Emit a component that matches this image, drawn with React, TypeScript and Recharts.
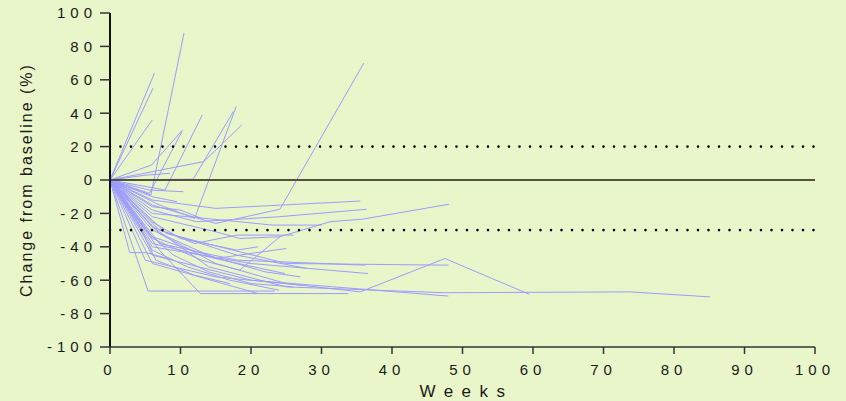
import React from 'react';
import { LineChart, Line, XAxis, YAxis, ReferenceLine } from 'recharts';

// each patient: [week, % change from baseline]
const p01 = [[0, 0], [6.3, 64]];
const p02 = [[0, 0], [6.1, 55]];
const p03 = [[0, 0], [6.0, 36]];
const p04 = [[0, 0], [5.8, -9], [10.5, 88]];
const p05 = [[0, 0], [7.8, -6], [13.1, 39]];
const p06 = [[0, 0], [11.8, 0.5], [17.5, 41]];
const p07 = [[0, 0], [5.9, 9], [10.3, 30]];
const p08 = [[0, 0], [13.3, 11], [18.7, 33]];
const p09 = [[0, 0], [6.5, -14], [12, -23], [17.9, 44]];
const p10 = [[0, 0], [5.5, -6], [10.4, -7]];
const p11 = [[0, 0], [5.2, 3], [8.5, 4]];
const p12 = [[0, 0], [5.6, -8], [10.2, 29]];
const p13 = [[0, 0], [6, -12], [15, -17], [35.5, -12.6]];
const p14 = [[0, 0], [6, -18], [12.3, -25], [24, -22], [36.4, -17.5]];
const p15 = [[0, 0], [6, -15], [15, -26], [24.1, -17.5], [36, 70]];
const p16 = [[0, 0], [6, -22], [15, -31], [18.4, -35], [24.1, -34]];
const p17 = [[0, 0], [6, -35], [13, -48], [18.4, -54], [24.1, -34], [31.2, -25], [35.9, -23.4], [48.1, -14.5]];
const p18 = [[0, 0], [5.4, -66.5], [23.4, -66.5]];
const p19 = [[0, 0], [7, -42], [12.8, -68], [33.8, -68]];
const p20 = [[0, 0], [2.8, -43.5], [5.2, -43.5], [9, -48]];
const p21 = [[0, 0], [7, -32], [15, -50], [25, -62], [35.5, -67], [39.7, -60], [47.5, -47], [59.5, -68.5]];
const p22 = [[0, 0], [6, -28], [14, -52], [25, -64], [47.5, -67.5], [73.8, -67], [85.1, -70]];
const p23 = [[0, 0], [6, -30], [15, -47], [25, -41]];
const p24 = [[0, 0], [7, -38], [18, -48], [36.2, -51]];
const p25 = [[0, 0], [6, -40], [20, -50], [36.6, -56]];
const p26 = [[0, 0], [8, -32], [25, -50], [48, -51]];
const p27 = [[0, 0], [6, -45], [20, -60], [48, -69.5]];
const p28 = [[0, 0], [5, -48], [15, -58], [27.2, -63]];
const p29 = [[0, 0], [6, -38], [16, -48], [24.8, -56]];
const p30 = [[0, 0], [7, -30], [18, -45], [28, -53]];
const p31 = [[0, 0], [6, -50], [21, -68]];
const p32 = [[0, 0], [6, -25], [10, -35], [18, -42], [21, -40]];
const p33 = [[0, 0], [5, -30], [9, -45], [14, -55], [20, -62], [26, -64]];
const p34 = [[0, 0], [6, -28], [12, -38], [18, -33], [26, -33]];
const p35 = [[0, 0], [6, -34], [13, -44], [22, -55], [27, -58]];
const p36 = [[0, 0], [6, -42], [11, -52], [17, -60], [24, -66]];
const p37 = [[0, 0], [6, -16], [10, -18], [13, -23]];
const p38 = [[0, 0], [4, -26], [6.5, -48], [12, -57], [17, -62]];
const p39 = [[0, 0], [6, -10], [9.5, -13]];
const p40 = [[0, 0], [6, -20], [16, -24], [23, -27], [30, -27]];

const patients = [
  p01, p02, p03, p04, p05, p06, p07, p08, p09, p10,
  p11, p12, p13, p14, p15, p16, p17, p18, p19, p20,
  p21, p22, p23, p24, p25, p26, p27, p28, p29, p30,
  p31, p32, p33, p34, p35, p36, p37, p38, p39, p40,
];

const xTicks = [0, 10, 20, 30, 40, 50, 60, 70, 80, 90, 100];
const yTicks = [-100, -80, -60, -40, -20, 0, 20, 40, 60, 80, 100];
const upperCut = 20;
const lowerCut = -30;

const font = '"Liberation Sans", Arial, sans-serif';
const bg = '#e9f6c9';
const lineColor = '#9c9cff';

function YTitle(props: any) {
  const { viewBox } = props;
  const x = viewBox.x + 32;
  const y = viewBox.y + viewBox.height / 2;
  return (
    <text x={x} y={y} transform={`rotate(-90, ${x}, ${y})`} textAnchor="middle"
      fontFamily={font} fontSize={16} letterSpacing={2} fill="#1a1a1a">
      Change from baseline (%)
    </text>
  );
}

function XTitle(props: any) {
  const { viewBox } = props;
  return (
    <text x={viewBox.x + viewBox.width / 2 + 4} y={viewBox.y + 50} textAnchor="middle"
      fontFamily={font} fontSize={17} letterSpacing={8.5} fill="#1a1a1a">
      Weeks
    </text>
  );
}

export default function App() {
  const series = patients.map((p) => p.map(([w, v]) => ({ w, v })));
  return (
    <div style={{ position: 'absolute', left: 0, top: 0, width: 846, height: 401, background: bg }}>
      <LineChart width={846} height={401} margin={{ top: 13, right: 31, bottom: 0, left: 0 }}>
        <XAxis
          dataKey="w"
          type="number"
          domain={[0, 100]}
          ticks={xTicks}
          height={54}
          tickSize={7}
          tickMargin={10}
          axisLine={{ stroke: '#333', strokeWidth: 1.5 }}
          tickLine={{ stroke: '#333', strokeWidth: 1.5 }}
          tick={{ fontSize: 15, letterSpacing: 5, fill: '#1a1a1a', fontFamily: font }}
          label={<XTitle />}
        />
        <YAxis
          dataKey="v"
          type="number"
          domain={[-100, 100]}
          ticks={yTicks}
          width={110}
          tickSize={10}
          tickMargin={3}
          axisLine={{ stroke: '#111', strokeWidth: 2 }}
          tickLine={{ stroke: '#333', strokeWidth: 1.5 }}
          tick={{ fontSize: 15, letterSpacing: 5, fill: '#1a1a1a', fontFamily: font }}
          label={<YTitle />}
        />
        {series.map((d, i) => (
          <Line
            key={i}
            data={d}
            dataKey="v"
            type="linear"
            stroke={lineColor}
            strokeWidth={1}
            dot={false}
            activeDot={false}
            isAnimationActive={false}
          />
        ))}
        <ReferenceLine y={0} stroke="#50553a" strokeWidth={2} />
        <ReferenceLine y={upperCut} stroke="#000" strokeWidth={2.6} strokeDasharray="0 10.5" strokeLinecap="round" />
        <ReferenceLine y={lowerCut} stroke="#000" strokeWidth={2.6} strokeDasharray="0 10.5" strokeLinecap="round" />
      </LineChart>
    </div>
  );
}
